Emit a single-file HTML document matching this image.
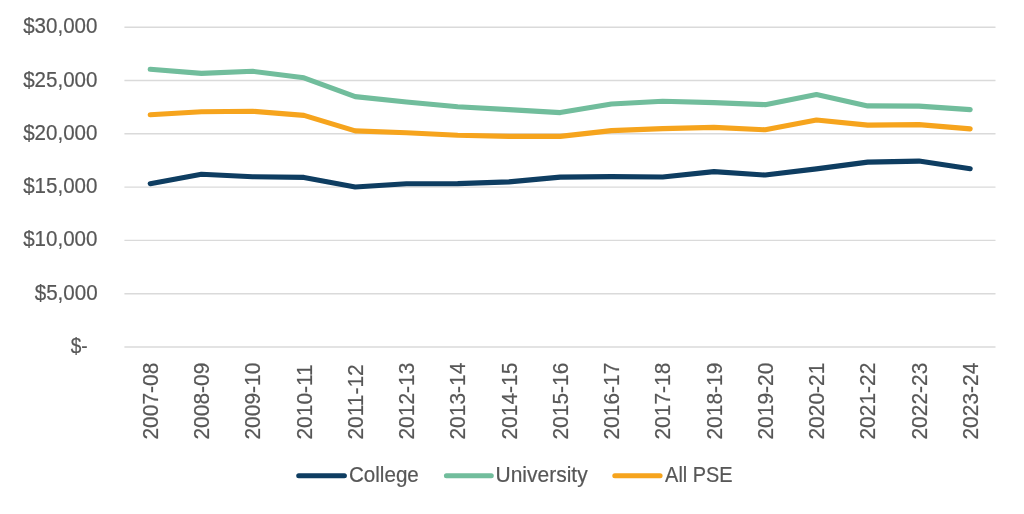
<!DOCTYPE html>
<html><head><meta charset="utf-8"><style>
html,body{margin:0;padding:0;background:#fff;overflow:hidden;}
svg{display:block;will-change:transform;filter:blur(0.35px);}
text{font-family:"Liberation Sans",sans-serif;stroke:#575757;stroke-width:0.2px;}
</style></head><body>
<svg width="1024" height="514" viewBox="0 0 1024 514">
<rect width="1024" height="514" fill="#fff"/>
<line x1="124.40" y1="27.30" x2="995.50" y2="27.30" stroke="#dadada" stroke-width="1.45"/>
<line x1="124.40" y1="80.57" x2="995.50" y2="80.57" stroke="#dadada" stroke-width="1.45"/>
<line x1="124.40" y1="133.84" x2="995.50" y2="133.84" stroke="#dadada" stroke-width="1.45"/>
<line x1="124.40" y1="187.11" x2="995.50" y2="187.11" stroke="#dadada" stroke-width="1.45"/>
<line x1="124.40" y1="240.38" x2="995.50" y2="240.38" stroke="#dadada" stroke-width="1.45"/>
<line x1="124.40" y1="293.65" x2="995.50" y2="293.65" stroke="#dadada" stroke-width="1.45"/>
<line x1="124.40" y1="346.92" x2="995.50" y2="346.92" stroke="#dadada" stroke-width="1.45"/>
<text transform="translate(23.16,33.40) scale(0.9645,1)" font-size="21.33" fill="#575757">$30,000</text>
<text transform="translate(23.16,86.67) scale(0.9645,1)" font-size="21.33" fill="#575757">$25,000</text>
<text transform="translate(23.16,139.94) scale(0.9645,1)" font-size="21.33" fill="#575757">$20,000</text>
<text transform="translate(23.16,193.21) scale(0.9645,1)" font-size="21.33" fill="#575757">$15,000</text>
<text transform="translate(23.16,246.48) scale(0.9645,1)" font-size="21.33" fill="#575757">$10,000</text>
<text transform="translate(34.71,299.75) scale(0.9650,1)" font-size="21.33" fill="#575757">$5,000</text>
<text transform="translate(70.72,353.02) scale(0.8939,1)" font-size="21.33" fill="#575757">$-</text>
<text transform="translate(157.90,439.53) rotate(-90) scale(0.982,1)" font-size="21.33" fill="#575757">2007-08</text>
<text transform="translate(209.15,439.53) rotate(-90) scale(0.982,1)" font-size="21.33" fill="#575757">2008-09</text>
<text transform="translate(260.40,439.53) rotate(-90) scale(0.982,1)" font-size="21.33" fill="#575757">2009-10</text>
<text transform="translate(311.65,439.53) rotate(-90) scale(0.982,1)" font-size="21.33" fill="#575757">2010-11</text>
<text transform="translate(362.90,439.53) rotate(-90) scale(0.982,1)" font-size="21.33" fill="#575757">2011-12</text>
<text transform="translate(414.15,439.53) rotate(-90) scale(0.982,1)" font-size="21.33" fill="#575757">2012-13</text>
<text transform="translate(465.40,439.53) rotate(-90) scale(0.982,1)" font-size="21.33" fill="#575757">2013-14</text>
<text transform="translate(516.65,439.53) rotate(-90) scale(0.982,1)" font-size="21.33" fill="#575757">2014-15</text>
<text transform="translate(567.90,439.53) rotate(-90) scale(0.982,1)" font-size="21.33" fill="#575757">2015-16</text>
<text transform="translate(619.15,439.53) rotate(-90) scale(0.982,1)" font-size="21.33" fill="#575757">2016-17</text>
<text transform="translate(670.40,439.53) rotate(-90) scale(0.982,1)" font-size="21.33" fill="#575757">2017-18</text>
<text transform="translate(721.65,439.53) rotate(-90) scale(0.982,1)" font-size="21.33" fill="#575757">2018-19</text>
<text transform="translate(772.90,439.53) rotate(-90) scale(0.982,1)" font-size="21.33" fill="#575757">2019-20</text>
<text transform="translate(824.15,439.53) rotate(-90) scale(0.982,1)" font-size="21.33" fill="#575757">2020-21</text>
<text transform="translate(875.40,439.53) rotate(-90) scale(0.982,1)" font-size="21.33" fill="#575757">2021-22</text>
<text transform="translate(926.65,439.53) rotate(-90) scale(0.982,1)" font-size="21.33" fill="#575757">2022-23</text>
<text transform="translate(977.90,439.53) rotate(-90) scale(0.982,1)" font-size="21.33" fill="#575757">2023-24</text>
<polyline points="150.20,183.65 201.45,174.25 252.70,176.75 303.95,177.40 355.20,187.05 406.45,183.75 457.70,183.60 508.95,181.90 560.20,177.15 611.45,176.60 662.70,177.05 713.95,171.60 765.20,175.05 816.45,168.85 867.70,162.10 918.95,161.10 970.20,168.65" fill="none" stroke="#0e3d61" stroke-width="5.1" stroke-linecap="round" stroke-linejoin="round"/>
<polyline points="150.20,69.25 201.45,73.35 252.70,71.30 303.95,77.81 355.20,96.65 406.45,101.92 457.70,106.70 508.95,109.60 560.20,112.60 611.45,104.00 662.70,101.25 713.95,102.60 765.20,104.65 816.45,94.60 867.70,105.90 918.95,106.10 970.20,109.65" fill="none" stroke="#71bd9c" stroke-width="5.1" stroke-linecap="round" stroke-linejoin="round"/>
<polyline points="150.20,114.80 201.45,111.80 252.70,111.30 303.95,115.40 355.20,130.85 406.45,132.80 457.70,135.30 508.95,136.40 560.20,136.35 611.45,130.60 662.70,128.65 713.95,127.40 765.20,129.75 816.45,120.00 867.70,125.10 918.95,124.60 970.20,128.90" fill="none" stroke="#f6a41d" stroke-width="5.1" stroke-linecap="round" stroke-linejoin="round"/>
<line x1="298.70" y1="475.8" x2="344.40" y2="475.8" stroke="#0e3d61" stroke-width="5.0" stroke-linecap="round"/>
<text transform="translate(348.93,481.90) scale(0.9668,1)" font-size="21.33" fill="#575757">College</text>
<line x1="446.40" y1="475.8" x2="491.30" y2="475.8" stroke="#71bd9c" stroke-width="5.0" stroke-linecap="round"/>
<text transform="translate(495.52,481.90) scale(0.9848,1)" font-size="21.33" fill="#575757">University</text>
<line x1="614.80" y1="475.8" x2="660.10" y2="475.8" stroke="#f6a41d" stroke-width="5.0" stroke-linecap="round"/>
<text transform="translate(665.10,481.90) scale(0.9342,1)" font-size="21.33" fill="#575757">All PSE</text>
</svg>
</body></html>
